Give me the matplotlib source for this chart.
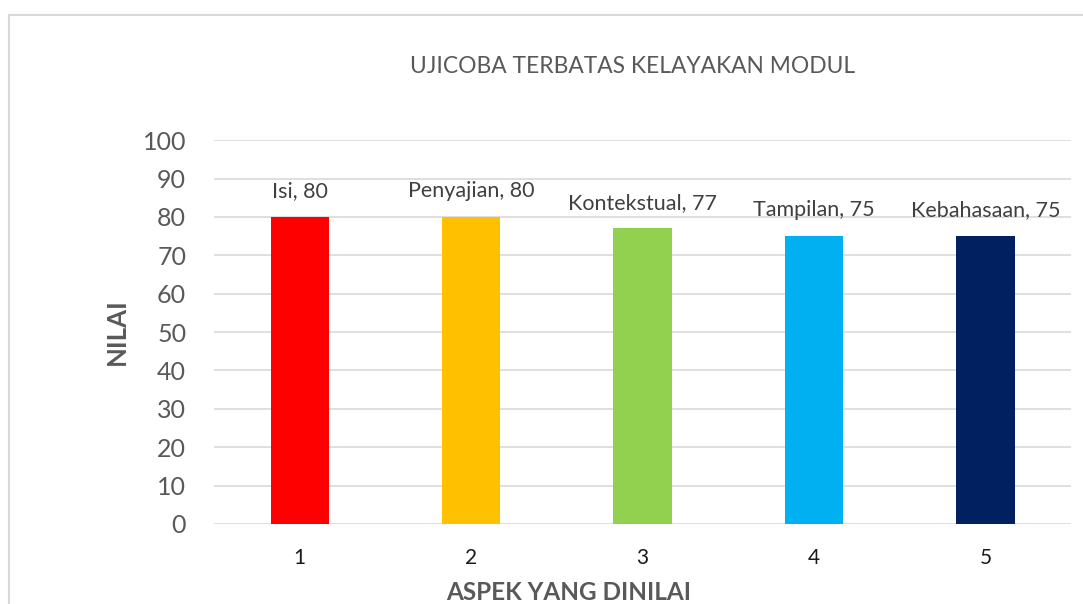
import matplotlib.pyplot as plt
import matplotlib.patches as mpatches

# data
categories = ["1", "2", "3", "4", "5"]
aspects = ["Isi", "Penyajian", "Kontekstual", "Tampilan", "Kebahasaan"]
values = [80, 80, 77, 75, 75]
colors = ["#FF0000", "#FFC000", "#92D050", "#00B0F0", "#002060"]

plt.rcParams['font.family'] = ['Lato', 'DejaVu Sans']

fig = plt.figure(figsize=(10.83, 6.04), dpi=100)
ax = fig.add_axes([0.1976, 0.1325, 0.7914, 0.6355])

x = range(len(categories))
bars = ax.bar(x, values, width=0.34, color=colors, zorder=3)

for i, (name, v) in enumerate(zip(aspects, values)):
    ax.annotate(f"{name}, {v}", (i, v), xytext=(0, 18.5), textcoords="offset points",
                ha="center", va="center", fontsize=15.5, color="#404040")

ax.set_xlim(-0.5, len(categories) - 0.5)
ax.set_ylim(0, 100)
ax.set_yticks(range(0, 101, 10))
ax.set_xticks(list(x))
ax.set_xticklabels(categories)
ax.tick_params(axis="y", length=0, labelsize=18, labelcolor="#595959", pad=20)
ax.tick_params(axis="x", length=0, labelsize=15, labelcolor="#1a1a1a", pad=17)
ax.grid(axis="y", color="#d9d9d9", linewidth=1.2, zorder=0)
for s in ax.spines.values():
    s.set_visible(False)

ax.set_xlabel("ASPEK YANG DINILAI", fontsize=17.5, fontweight="bold", color="#595959")
ax.xaxis.set_label_coords(0.414, -0.148)
ax.set_ylabel("NILAI", fontsize=18.5, fontweight="bold", color="#595959")
ax.yaxis.set_label_coords(-0.0995, 0.5)

fig.text(0.584, 0.89, "UJICOBA TERBATAS KELAYAKAN MODUL", ha="center", va="center",
         fontsize=16.4, color="#595959")

# chart frame
frame = mpatches.Rectangle((0.008, -0.1), 1.2, 1.075, transform=fig.transFigure,
                           fill=False, edgecolor="#d9d9d9", linewidth=1.5)
fig.patches.append(frame)

fig.savefig("out.png", dpi=100)
